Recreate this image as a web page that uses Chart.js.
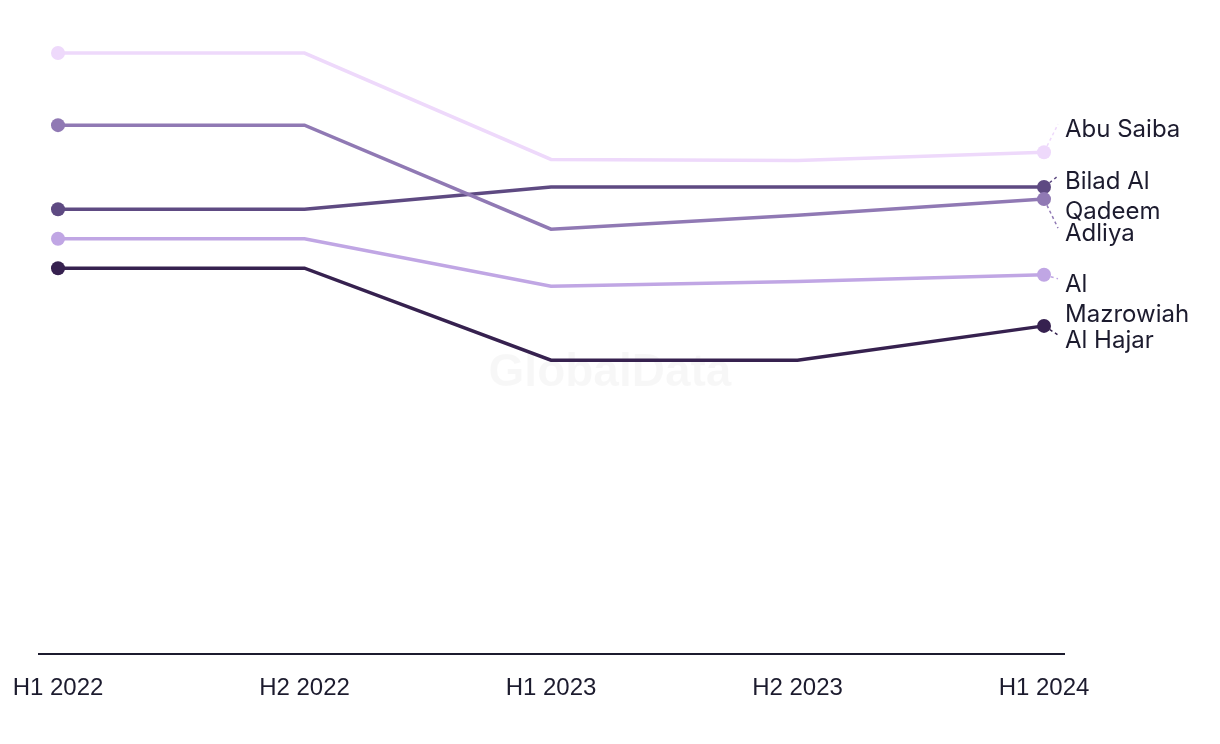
<!DOCTYPE html>
<html>
<head>
<meta charset="utf-8">
<script src="https://cdn.jsdelivr.net/npm/chart.js@4"></script>
<style>
html,body{margin:0;padding:0;background:#fff;}
#wrap{width:1220px;height:744px;position:relative;}
</style>
</head>
<body>
<div id="wrap"><canvas id="c" width="1220" height="744"></canvas></div>
<script>
const categories = ['H1 2022', 'H2 2022', 'H1 2023', 'H2 2023', 'H1 2024'];
const abuSaiba      = [100.0, 100.0, 82.3, 82.1, 83.5];
const adliya        = [88.0, 88.0, 70.7, 73.0, 75.7];
const biladAlQadeem = [74.0, 74.0, 77.7, 77.7, 77.7];
const alMazrowiah   = [69.1, 69.1, 61.2, 62.0, 63.1];
const alHajar       = [64.2, 64.2, 48.9, 48.9, 54.6];
const seriesLabels  = [['Abu Saiba'], ['Adliya'], ['Bilad Al', 'Qadeem'], ['Al', 'Mazrowiah'], ['Al Hajar']];

const colors = ['#eed9fb', '#9079b4', '#5e4a82', '#c0a6e4', '#36214f'];
const labelDy = [-22, 35, 10, 25, 15];
const FONT = '"Liberation Sans", Arial, sans-serif';
const LFONT = 'Inter, "Liberation Sans", sans-serif';
const TEXT = '#1c1b2e';

const seriesData = [abuSaiba, adliya, biladAlQadeem, alMazrowiah, alHajar];
const datasets = seriesData.map((d, i) => ({
  label: seriesLabels[i].join(' '),
  data: d,
  borderColor: colors[i],
  backgroundColor: colors[i],
  pointBackgroundColor: colors[i],
  pointBorderWidth: 0,
  pointRadius: d.map((v, k) => (k === 0 || k === d.length - 1) ? 7 : 0),
  pointHoverRadius: 0,
  borderWidth: 3.5,
  tension: 0,
  fill: false
}));

const decor = {
  id: 'decor',
  beforeDatasetsDraw(chart) {
    const ctx = chart.ctx;
    ctx.save();
    ctx.font = 'bold 46px ' + FONT;
    ctx.fillStyle = 'rgba(0,0,0,0.03)';
    ctx.textAlign = 'center';
    ctx.textBaseline = 'middle';
    ctx.fillText('GlobalData', 610, 373);
    ctx.restore();
  },
  afterDraw(chart) {
    const ctx = chart.ctx;
    const area = chart.chartArea;
    ctx.save();
    ctx.strokeStyle = TEXT;
    ctx.lineWidth = 2;
    ctx.beginPath();
    ctx.moveTo(area.left - 20, area.bottom);
    ctx.lineTo(area.right + 21, area.bottom);
    ctx.stroke();
    ctx.font = '24px ' + LFONT;
    ctx.textAlign = 'left';
    ctx.textBaseline = 'middle';
    const lh = 30;
    chart.data.datasets.forEach((ds, i) => {
      const meta = chart.getDatasetMeta(i);
      const pt = meta.data[meta.data.length - 1];
      const lines = seriesLabels[i];
      const centerY = pt.y + labelDy[i];
      const firstY = centerY - (lines.length - 1) * lh / 2;
      const tx = pt.x + 21;
      const ex = tx - 7, ey = firstY - 6;
      const ang = Math.atan2(ey - pt.y, ex - pt.x);
      ctx.strokeStyle = ds.borderColor;
      ctx.lineWidth = 1.5;
      ctx.setLineDash([3, 3]);
      ctx.beginPath();
      ctx.moveTo(pt.x + Math.cos(ang) * 7, pt.y + Math.sin(ang) * 7);
      ctx.lineTo(ex, ey);
      ctx.stroke();
      ctx.setLineDash([]);
      ctx.fillStyle = TEXT;
      lines.forEach((t, k) => ctx.fillText(t, tx, firstY + k * lh));
    });
    ctx.restore();
  }
};

new Chart(document.getElementById('c'), {
  type: 'line',
  data: { labels: categories, datasets },
  options: {
    responsive: false,
    animation: false,
    events: [],
    layout: { padding: { left: 58, right: 176, top: 23, bottom: 0 } },
    plugins: { legend: { display: false }, tooltip: { enabled: false } },
    scales: {
      x: {
        type: 'category',
        offset: false,
        grid: { display: false, drawTicks: false },
        border: { display: false },
        ticks: { color: TEXT, font: { family: FONT, size: 24 }, padding: 20, maxRotation: 0, autoSkip: false },
        afterFit(s) { s.height = 90; s.paddingLeft = 0; s.paddingRight = 0; }
      },
      y: {
        display: false,
        min: 0,
        max: 105
      }
    }
  },
  plugins: [decor]
});
</script>
</body>
</html>
